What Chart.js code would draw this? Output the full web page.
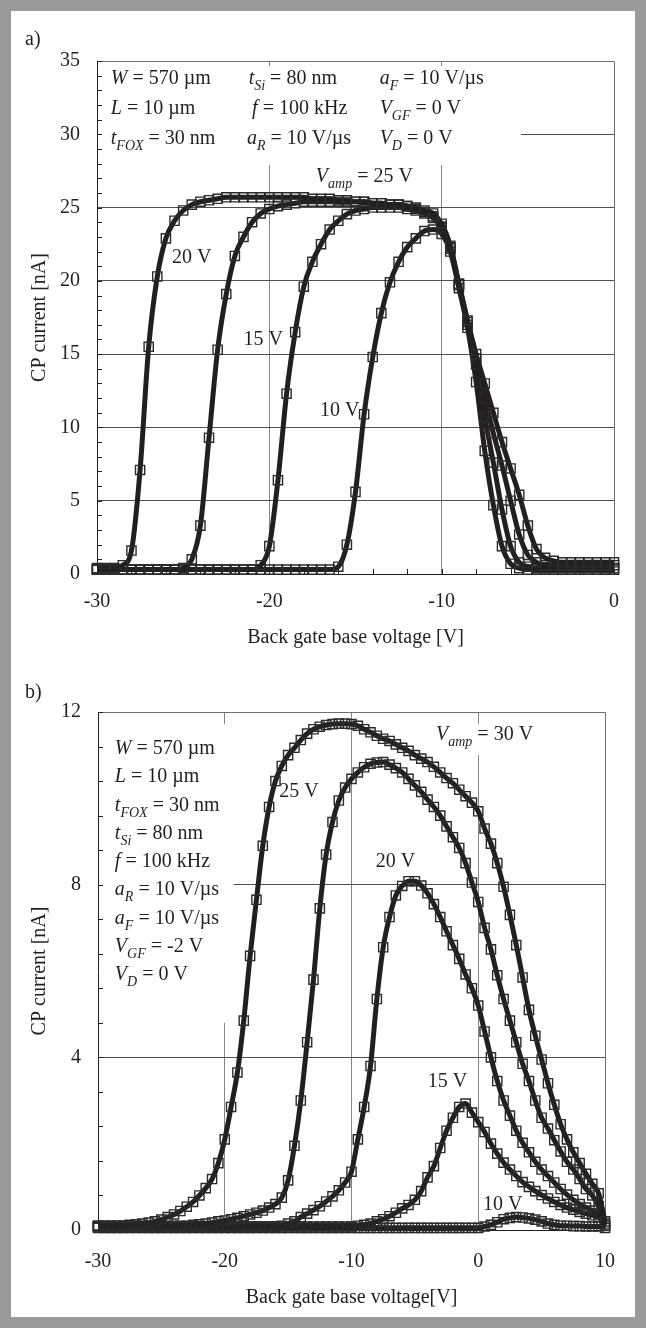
<!DOCTYPE html>
<html>
<head>
<meta charset="utf-8">
<script src="https://cdn.jsdelivr.net/npm/chart.js@4.4.1/dist/chart.umd.min.js"></script>
<style>
  html, body { margin: 0; padding: 0; background: #fff; }
  #frame { position: absolute; left: 0; top: 0; width: 646px; height: 1328px; box-sizing: border-box; border: 11px solid #9a9a9a; background: #fff; }
  .panel { position: absolute; left: 11px; width: 624px; }
  #panelA { top: 11px; height: 650px; }
  #panelB { top: 661px; height: 656px; }
</style>
</head>
<body>
<div id="frame"></div>
<div class="panel" id="panelA"><canvas id="chartA"></canvas></div>
<div class="panel" id="panelB"><canvas id="chartB"></canvas></div>
<script>
// ---------- panel a) : V_GF = 0 V ----------
const voltsA = [-30,-29.5,-29,-28.5,-28,-27.5,-27,-26.5,-26,-25.5,
  -25,-24.5,-24,-23.5,-23,-22.5,-22,-21.5,-21,-20.5,
  -20,-19.5,-19,-18.5,-18,-17.5,-17,-16.5,-16,-15.5,
  -15,-14.5,-14,-13.5,-13,-12.5,-12,-11.5,-11,-10.5,
  -10,-9.5,-9,-8.5,-8,-7.5,-7,-6.5,-6,-5.5,
  -5,-4.5,-4,-3.5,-3,-2.5,-2,-1.5,-1,-0.5,
  0];
const cpA25 = [0.4,0.4,0.4,0.6,1.6,7.1,15.5,20.3,22.9,24.1,
  24.8,25.2,25.4,25.5,25.6,25.7,25.7,25.7,25.7,25.7,
  25.7,25.7,25.7,25.7,25.7,25.6,25.6,25.6,25.5,25.5,
  25.4,25.4,25.3,25.3,25.2,25.2,25.1,25.0,24.8,24.6,
  23.9,22.4,19.8,17.3,15.0,13.0,11.0,9.0,7.2,5.4,
  3.3,1.7,1.1,0.9,0.8,0.8,0.8,0.8,0.8,0.8,
  0.8];
const cpA20 = [0.3,0.3,0.3,0.3,0.3,0.3,0.3,0.3,0.3,0.3,
  0.4,1.0,3.3,9.3,15.3,19.1,21.7,23.0,24.0,24.6,
  24.9,25.1,25.2,25.3,25.4,25.4,25.4,25.4,25.4,25.4,
  25.4,25.4,25.3,25.3,25.2,25.2,25.1,24.9,24.7,24.4,
  23.7,22.3,19.8,17.2,14.7,12.0,9.6,7.4,5.0,2.7,
  1.3,0.8,0.6,0.6,0.6,0.6,0.6,0.6,0.6,0.6,
  0.6];
const cpA15 = [0.3,0.3,0.3,0.3,0.3,0.3,0.3,0.3,0.3,0.3,
  0.3,0.3,0.3,0.3,0.3,0.3,0.3,0.3,0.3,0.6,
  1.9,6.4,12.3,16.5,19.6,21.3,22.5,23.5,24.1,24.55,
  24.8,24.9,25.0,25.0,25.0,25.0,24.9,24.8,24.6,24.3,
  23.6,22.2,19.7,17.0,14.3,10.7,7.6,4.4,1.9,0.8,
  0.5,0.4,0.4,0.4,0.4,0.4,0.4,0.4,0.4,0.4,
  0.4];
const cpA10 = [0.3,0.3,0.3,0.3,0.3,0.3,0.3,0.3,0.3,0.3,
  0.3,0.3,0.3,0.3,0.3,0.3,0.3,0.3,0.3,0.3,
  0.3,0.3,0.3,0.3,0.3,0.3,0.3,0.3,0.5,2.0,
  5.6,10.9,14.8,17.8,19.9,21.3,22.3,22.9,23.4,23.5,
  23.2,22.0,19.5,16.8,13.1,8.4,4.7,1.9,0.7,0.4,
  0.3,0.3,0.3,0.3,0.3,0.3,0.3,0.3,0.3,0.3,
  0.3];
const ticksAx = [-30, -20, -10, 0];
const ticksAy = [0, 5, 10, 15, 20, 25, 30, 35];

// ---------- panel b) : V_GF = -2 V ----------
const voltsB = [-30,-29.5,-29,-28.5,-28,-27.5,-27,-26.5,-26,-25.5,
  -25,-24.5,-24,-23.5,-23,-22.5,-22,-21.5,-21,-20.5,
  -20,-19.5,-19,-18.5,-18,-17.5,-17,-16.5,-16,-15.5,
  -15,-14.5,-14,-13.5,-13,-12.5,-12,-11.5,-11,-10.5,
  -10,-9.5,-9,-8.5,-8,-7.5,-7,-6.5,-6,-5.5,
  -5,-4.5,-4,-3.5,-3,-2.5,-2,-1.5,-1,-0.5,
  0,0.5,1,1.5,2,2.5,3,3.5,4,4.5,
  5,5.5,6,6.5,7,7.5,8,8.5,9,9.5,
  10];
const cpB30 = [0.1,0.1,0.1,0.1,0.1,0.12,0.13,0.15,0.17,0.2,
  0.24,0.3,0.36,0.44,0.54,0.65,0.8,0.97,1.18,1.55,
  2.1,2.85,3.65,4.85,6.35,7.65,8.9,9.8,10.4,10.75,
  11.0,11.17,11.35,11.5,11.6,11.66,11.7,11.72,11.73,11.73,
  11.72,11.68,11.6,11.53,11.45,11.38,11.33,11.25,11.17,11.1,
  11.0,10.92,10.84,10.73,10.6,10.47,10.35,10.2,10.05,9.9,
  9.7,9.3,8.95,8.5,7.95,7.3,6.6,5.85,5.1,4.5,
  3.95,3.4,2.9,2.45,2.1,1.8,1.55,1.3,1.07,0.85,
  0.2];
const cpB25 = [0.1,0.1,0.1,0.1,0.1,0.1,0.1,0.1,0.1,0.1,
  0.1,0.1,0.1,0.1,0.1,0.12,0.13,0.15,0.17,0.2,
  0.22,0.25,0.28,0.32,0.36,0.4,0.45,0.52,0.6,0.75,
  1.15,1.95,3.0,4.35,5.8,7.45,8.7,9.45,9.95,10.25,
  10.45,10.6,10.72,10.8,10.83,10.84,10.78,10.7,10.6,10.45,
  10.3,10.15,9.97,9.8,9.6,9.35,9.1,8.85,8.5,8.05,
  7.6,7.0,6.5,5.9,5.35,4.85,4.35,3.85,3.45,3.0,
  2.6,2.35,2.08,1.82,1.58,1.4,1.18,0.95,0.8,0.55,
  0.15];
const cpB20 = [0.08,0.08,0.08,0.08,0.08,0.08,0.08,0.08,0.08,0.08,
  0.08,0.08,0.08,0.08,0.08,0.08,0.08,0.08,0.08,0.08,
  0.08,0.08,0.08,0.08,0.08,0.08,0.08,0.08,0.08,0.1,
  0.15,0.2,0.3,0.38,0.46,0.55,0.66,0.78,0.92,1.1,
  1.35,2.1,2.85,3.8,5.35,6.55,7.25,7.75,7.97,8.08,
  8.08,7.98,7.8,7.55,7.25,6.92,6.6,6.28,5.92,5.6,
  5.2,4.6,4.0,3.45,3.0,2.65,2.3,2.02,1.8,1.58,
  1.4,1.25,1.1,0.95,0.82,0.7,0.6,0.52,0.45,0.38,
  0.1];
const cpB15 = [0.08,0.08,0.08,0.08,0.08,0.08,0.08,0.08,0.08,0.08,
  0.08,0.08,0.08,0.08,0.08,0.08,0.08,0.08,0.08,0.08,
  0.08,0.08,0.08,0.08,0.08,0.08,0.08,0.08,0.08,0.08,
  0.08,0.08,0.08,0.08,0.08,0.08,0.08,0.08,0.08,0.08,
  0.08,0.1,0.12,0.15,0.2,0.25,0.32,0.4,0.5,0.58,
  0.7,0.9,1.22,1.48,1.9,2.3,2.6,2.85,2.93,2.72,
  2.5,2.27,2.0,1.77,1.56,1.4,1.25,1.11,1.0,0.9,
  0.81,0.73,0.65,0.58,0.52,0.47,0.42,0.38,0.34,0.3,
  0.1];
const cpB10 = [0.05,0.05,0.05,0.05,0.05,0.05,0.05,0.05,0.05,0.05,
  0.05,0.05,0.05,0.05,0.05,0.05,0.05,0.05,0.05,0.05,
  0.05,0.05,0.05,0.05,0.05,0.05,0.05,0.05,0.05,0.05,
  0.05,0.05,0.05,0.05,0.05,0.05,0.05,0.05,0.05,0.05,
  0.05,0.05,0.05,0.05,0.05,0.05,0.05,0.05,0.05,0.05,
  0.05,0.05,0.05,0.05,0.05,0.05,0.05,0.05,0.05,0.05,
  0.05,0.08,0.12,0.18,0.25,0.28,0.3,0.29,0.27,0.24,
  0.2,0.15,0.12,0.1,0.1,0.09,0.09,0.08,0.08,0.08,
  0.05];
const ticksBx = [-30, -20, -10, 0, 10];
const ticksBy = [0, 4, 8, 12];

// ---------- look ----------
const FONT = '"Liberation Serif", "Times New Roman", serif';
const SIZE = 20;
const INK = '#231f20';
const GRID_H = '#505050';
const GRID_V = '#858585';

function series(xs, ys) {
  return {
    data: xs.map((v, i) => ({ x: v, y: ys[i] })),
    showLine: true,
    borderColor: INK,
    borderWidth: 5,
    cubicInterpolationMode: 'monotone',
    pointStyle: 'rect',
    pointRadius: 6.5,
    pointBorderWidth: 1.4,
    pointBorderColor: '#2b2b2b',
    pointBackgroundColor: 'rgba(0,0,0,0)',
    clip: false
  };
}

// italic letters with small italic subscripts
function rich(ctx, parts, x, y) {
  let cx = x;
  for (const [txt, st] of parts) {
    const sub = st === 's';
    const fs = sub ? Math.round(SIZE * 0.7) : SIZE;
    ctx.font = (st ? 'italic ' : '') + fs + 'px ' + FONT;
    ctx.fillText(txt, cx, sub ? y + SIZE * 0.3 : y);
    cx += ctx.measureText(txt).width;
  }
}

const figurePlugin = {
  id: 'figure',
  beforeDatasetsDraw(chart, args, opts) {
    const { ctx, chartArea: a, scales: { x, y } } = chart;
    ctx.save();
    // white patches behind the parameter text
    ctx.fillStyle = '#fff';
    opts.covers.forEach(c => {
      const l = Math.max(x.getPixelForValue(c.x0), a.left + 1);
      const r = Math.min(x.getPixelForValue(c.x1), a.right - 1);
      const t = y.getPixelForValue(c.y0) + c.gap;
      const b = y.getPixelForValue(c.y1);
      ctx.fillRect(l, t, r - l, b - t);
    });
    // top + right edge of plot box
    ctx.strokeStyle = '#707070';
    ctx.lineWidth = 1;
    ctx.beginPath();
    ctx.moveTo(a.left, a.top + 0.5);
    ctx.lineTo(a.right + 0.5, a.top + 0.5);
    ctx.lineTo(a.right + 0.5, a.bottom);
    ctx.stroke();
    // small inward ticks
    ctx.strokeStyle = INK;
    ctx.beginPath();
    y.ticks.forEach(t => {
      const py = Math.round(y.getPixelForValue(t.value)) + 0.5;
      ctx.moveTo(a.left, py);
      ctx.lineTo(a.left + 5, py);
    });
    if (opts.xMinor) {
      x.ticks.forEach(t => {
        const px = Math.round(x.getPixelForValue(t.value)) + 0.5;
        ctx.moveTo(px, a.bottom);
        ctx.lineTo(px, a.bottom - 5);
      });
    }
    ctx.stroke();
    ctx.restore();
  },
  afterDraw(chart, args, opts) {
    const { ctx, scales: { x, y } } = chart;
    ctx.save();
    ctx.fillStyle = INK;
    ctx.textBaseline = 'alphabetic';
    opts.notes.forEach(n => rich(ctx, n.parts, x.getPixelForValue(n.x), y.getPixelForValue(n.y) + SIZE * 0.33));
    ctx.font = SIZE + 'px ' + FONT;
    ctx.textBaseline = 'middle';
    ctx.fillText(opts.letter, opts.letterAt[0], opts.letterAt[1]);
    ctx.restore();
  }
};
Chart.register(figurePlugin);

const near = (list, v) => list.some(t => Math.abs(t - v) < 1e-6);

function buildOptions(p) {
  const inner = (list, s, v) => near(list, v) && v > s.min + 1e-6 && v < s.max - 1e-6;
  return {
    responsive: true,
    maintainAspectRatio: false,
    animation: false,
    devicePixelRatio: 1,
    layout: { padding: p.padding },
    plugins: { legend: { display: false }, tooltip: { enabled: false }, figure: p.figure },
    scales: {
      x: {
        type: 'linear', min: p.x.min, max: p.x.max,
        afterFit: s => { s.height = p.xHeight; },
        border: { display: true, color: INK, width: 1 },
        grid: { drawTicks: false, lineWidth: 1,
          color: c => inner(p.x.labels, p.x, c.tick.value) ? GRID_V : 'rgba(0,0,0,0)' },
        ticks: { stepSize: p.x.step, autoSkip: false, maxRotation: 0, padding: p.x.tickPad,
          color: INK, font: { family: FONT, size: SIZE },
          callback: v => near(p.x.labels, v) ? String(Math.round(v)) : '' },
        title: { display: true, text: p.x.title, color: INK, font: { family: FONT, size: SIZE },
          padding: { top: 0, bottom: p.x.titlePad } }
      },
      y: {
        type: 'linear', min: p.y.min, max: p.y.max,
        afterFit: s => { s.width = p.yWidth; },
        border: { display: true, color: INK, width: 1 },
        grid: { drawTicks: false, lineWidth: 1,
          color: c => inner(p.y.labels, p.y, c.tick.value) ? GRID_H : 'rgba(0,0,0,0)' },
        ticks: { stepSize: p.y.step, autoSkip: false, padding: 17,
          color: INK, font: { family: FONT, size: SIZE },
          callback: v => near(p.y.labels, v) ? String(Math.round(v)) : '' },
        title: { display: true, text: 'CP current [nA]', color: INK, font: { family: FONT, size: SIZE },
          padding: { top: 17, bottom: 0 } }
      }
    }
  };
}

new Chart(document.getElementById('chartA'), {
  type: 'scatter',
  data: { datasets: [cpA25, cpA20, cpA15, cpA10].map(s => series(voltsA, s)) },
  options: buildOptions({
    padding: { left: 0, right: 14, top: 50, bottom: 0 },
    yWidth: 86, xHeight: 87,
    x: { min: -30, max: 0, step: 2, labels: ticksAx, title: 'Back gate base voltage [V]', tickPad: 16, titlePad: 11 },
    y: { min: 0, max: 35, step: 1, labels: ticksAy },
    figure: {
      letter: 'a)', letterAt: [14, 29], xMinor: true,
      covers: [{ x0: -30, x1: -5.4, y0: 35, y1: 27.9, gap: 5 }],
      notes: [
        { x: -29.2, y: 33.9, parts: [['W', 'i'], [' = 570 µm']] },
        { x: -21.2, y: 33.9, parts: [['t', 'i'], ['Si', 's'], [' = 80 nm']] },
        { x: -13.6, y: 33.9, parts: [['a', 'i'], ['F', 's'], [' = 10 V/µs']] },
        { x: -29.2, y: 31.85, parts: [['L', 'i'], [' = 10 µm']] },
        { x: -21.0, y: 31.85, parts: [['f', 'i'], [' = 100 kHz']] },
        { x: -13.6, y: 31.85, parts: [['V', 'i'], ['GF', 's'], [' = 0 V']] },
        { x: -29.2, y: 29.8, parts: [['t', 'i'], ['FOX', 's'], [' = 30 nm']] },
        { x: -21.3, y: 29.8, parts: [['a', 'i'], ['R', 's'], [' = 10 V/µs']] },
        { x: -13.6, y: 29.8, parts: [['V', 'i'], ['D', 's'], [' = 0 V']] },
        { x: -17.3, y: 27.2, parts: [['V', 'i'], ['amp', 's'], [' = 25 V']] },
        { x: -25.65, y: 21.7, parts: [['20 V']] },
        { x: -21.5, y: 16.1, parts: [['15 V']] },
        { x: -17.06, y: 11.2, parts: [['10 V']] }
      ]
    }
  })
});

new Chart(document.getElementById('chartB'), {
  type: 'scatter',
  data: { datasets: [cpB30, cpB25, cpB20, cpB15, cpB10].map(s => series(voltsB, s)) },
  options: buildOptions({
    padding: { left: 0, right: 13, top: 51, bottom: 0 },
    yWidth: 87, xHeight: 87,
    x: { min: -30, max: 10, step: 10, labels: ticksBx, title: 'Back gate base voltage[V]', tickPad: 20, titlePad: 7 },
    y: { min: 0, max: 12, step: 0.8, labels: ticksBy },
    figure: {
      letter: 'b)', letterAt: [14, 32], xMinor: false,
      covers: [
        { x0: -30, x1: -19.3, y0: 12, y1: 4.8, gap: 12 },
        { x0: -3.6, x1: 5.5, y0: 12, y1: 11.0, gap: 12 }
      ],
      notes: [
        { x: -28.67, y: 11.18, parts: [['W', 'i'], [' = 570 µm']] },
        { x: -28.67, y: 10.53, parts: [['L', 'i'], [' = 10 µm']] },
        { x: -28.67, y: 9.87, parts: [['t', 'i'], ['FOX', 's'], [' = 30 nm']] },
        { x: -28.67, y: 9.22, parts: [['t', 'i'], ['Si', 's'], [' = 80 nm']] },
        { x: -28.67, y: 8.56, parts: [['f', 'i'], [' = 100 kHz']] },
        { x: -28.67, y: 7.91, parts: [['a', 'i'], ['R', 's'], [' = 10 V/µs']] },
        { x: -28.67, y: 7.25, parts: [['a', 'i'], ['F', 's'], [' = 10 V/µs']] },
        { x: -28.67, y: 6.60, parts: [['V', 'i'], ['GF', 's'], [' = -2 V']] },
        { x: -28.67, y: 5.94, parts: [['V', 'i'], ['D', 's'], [' = 0 V']] },
        { x: -3.33, y: 11.5, parts: [['V', 'i'], ['amp', 's'], [' = 30 V']] },
        { x: -15.7, y: 10.19, parts: [['25 V']] },
        { x: -8.08, y: 8.56, parts: [['20 V']] },
        { x: -3.98, y: 3.47, parts: [['15 V']] },
        { x: 0.38, y: 0.62, parts: [['10 V']] }
      ]
    }
  })
});
</script>
</body>
</html>
